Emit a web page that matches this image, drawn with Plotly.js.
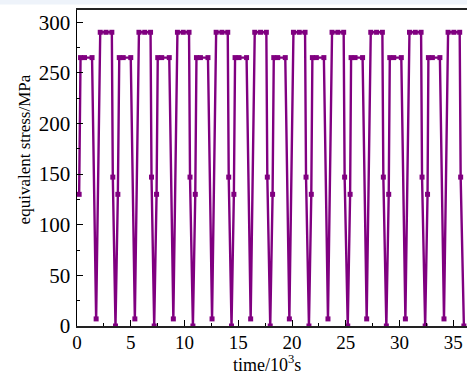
<!DOCTYPE html>
<html>
<head>
<meta charset="utf-8">
<script src="https://cdn.plot.ly/plotly-3.0.1.min.js"></script>
<style>html,body{margin:0;padding:0;background:#fff;}#chart{width:467px;height:376px;}</style>
</head>
<body>
<div id="chart"></div>
<script>
// time in 10^3 s
const timeK = [
  0.20, 0.33, 0.70, 1.40, 1.78, 2.16, 2.70, 3.24, 3.33, 3.58,
  3.80, 3.93, 4.30, 5.00, 5.38, 5.76, 6.30, 6.84, 6.93, 7.18,
  7.40, 7.51, 7.88, 8.58, 8.96, 9.34, 9.88, 10.42, 10.51, 10.78,
  11.00, 11.11, 11.48, 12.18, 12.56, 12.94, 13.48, 14.02, 14.11, 14.37,
  14.59, 14.70, 15.07, 15.77, 16.15, 16.53, 17.07, 17.61, 17.70, 17.97,
  18.19, 18.30, 18.67, 19.37, 19.75, 20.13, 20.67, 21.21, 21.30, 21.57,
  21.79, 21.89, 22.26, 22.96, 23.34, 23.72, 24.26, 24.80, 24.89, 25.18,
  25.40, 25.49, 25.86, 26.56, 26.94, 27.32, 27.86, 28.40, 28.49, 28.77,
  28.99, 29.09, 29.46, 30.16, 30.54, 30.92, 31.46, 32.00, 32.09, 32.38,
  32.60, 32.68, 33.05, 33.75, 34.13, 34.51, 35.05, 35.59, 35.68, 35.98
];
// equivalent stress in MPa
const stressMPa = [
  130, 265, 265, 265, 7, 290, 290, 290, 147, 0,
  130, 265, 265, 265, 7, 290, 290, 290, 147, 0,
  130, 265, 265, 265, 7, 290, 290, 290, 147, 0,
  130, 265, 265, 265, 7, 290, 290, 290, 147, 0,
  130, 265, 265, 265, 7, 290, 290, 290, 147, 0,
  130, 265, 265, 265, 7, 290, 290, 290, 147, 0,
  130, 265, 265, 265, 7, 290, 290, 290, 147, 0,
  130, 265, 265, 265, 7, 290, 290, 290, 147, 0,
  130, 265, 265, 265, 7, 290, 290, 290, 147, 0,
  130, 265, 265, 265, 7, 290, 290, 290, 147, 0
];
const xTickVals = [0, 5, 10, 15, 20, 25, 30, 35];
const yTickVals = [0, 50, 100, 150, 200, 250, 300];
const xTitle = 'time/10<sup>3</sup>s';
const yTitle = 'equivalent stress/MPa';

const purple = 'rgb(128,0,128)';
const serif = "'Liberation Serif', 'Times New Roman', serif";

const trace = {
  x: timeK, y: stressMPa, type: 'scatter', mode: 'lines+markers',
  line: {color: purple, width: 2.4},
  marker: {symbol: 'square', size: 5, color: purple},
  cliponaxis: true, hoverinfo: 'skip'
};

const layout = {
  width: 467, height: 376,
  margin: {l: 77, r: 0, t: 10, b: 50},
  paper_bgcolor: '#ffffff', plot_bgcolor: '#ffffff',
  showlegend: false,
  xaxis: {
    range: [0, 36.27], tickvals: xTickVals, ticktext: xTickVals.map(String),
    showgrid: false, zeroline: false,
    showline: true, linecolor: '#222', linewidth: 1.8, mirror: true,
    ticks: 'inside', ticklen: 6, tickwidth: 1, tickcolor: '#000',
    minor: {dtick: 2.5, tick0: 0, ticks: 'inside', ticklen: 3, tickcolor: '#000', tickwidth: 1, showgrid: false},
    tickfont: {family: serif, size: 19, color: '#000'},
    ticklabelstandoff: -2
  },
  yaxis: {
    range: [0, 312], tickvals: yTickVals, ticktext: yTickVals.map(String),
    showgrid: false, zeroline: false,
    showline: true, linecolor: '#000', linewidth: 1.5,
    ticks: 'inside', ticklen: 6, tickwidth: 1, tickcolor: '#000',
    minor: {dtick: 25, tick0: 0, ticks: 'inside', ticklen: 3, tickcolor: '#000', tickwidth: 1, showgrid: false},
    tickfont: {family: serif, size: 21, color: '#000'},
    ticklabelstandoff: 1
  },
  annotations: [
    {text: xTitle, xref: 'paper', yref: 'paper', x: 0.487, y: -0.16,
     xanchor: 'center', yanchor: 'bottom', showarrow: false,
     font: {family: serif, size: 18, color: '#000'}},
    {text: yTitle, xref: 'paper', yref: 'paper', x: -0.135, y: 0.56,
     xanchor: 'center', yanchor: 'middle', showarrow: false, textangle: -90,
     font: {family: serif, size: 17, color: '#000'}}
  ],
  shapes: [
    {type: 'rect', xref: 'paper', yref: 'paper', x0: -0.3, x1: 1.01, y0: 1.0175, y1: 1.04,
     line: {width: 0}, fillcolor: '#eef3fa', layer: 'below'}
  ]
};

Plotly.newPlot('chart', [trace], layout, {displayModeBar: false, staticPlot: true});
</script>
</body>
</html>
